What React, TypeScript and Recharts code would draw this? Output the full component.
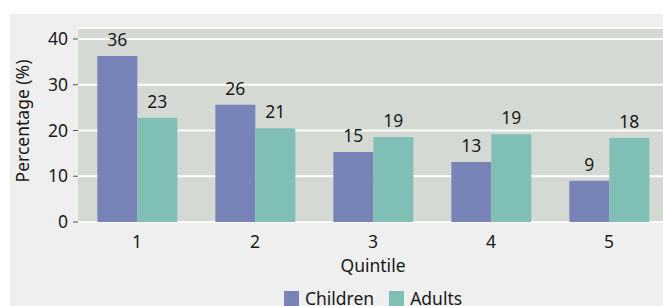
import React from 'react';
import { BarChart, Bar, XAxis, YAxis, CartesianGrid, LabelList, Legend } from 'recharts';

const quintiles = ['1', '2', '3', '4', '5'];
const children = [36.3, 25.6, 15.3, 13.1, 9.0];
const adults = [22.8, 20.5, 18.6, 19.2, 18.4];
const yTicks = [0, 10, 20, 30, 40];
const seriesNames = ['Children', 'Adults'];

const data = quintiles.map((q, i) => ({ q, children: children[i], adults: adults[i] }));

const FONT = '"Noto Sans", sans-serif';
const FS = 17.5;
const PURPLE = '#7883b7';
const TEAL = '#80bfb5';
const seriesColors = [PURPLE, TEAL];

const renderLegend = () => (
  <div style={{ display: 'flex', justifyContent: 'center', alignItems: 'center', height: 20, fontFamily: FONT, fontSize: FS, color: '#1a1a1a', lineHeight: '20px' }}>
    {seriesNames.map((name, i) => (
      <div key={name} style={{ display: 'flex', alignItems: 'center', marginRight: i === seriesNames.length - 1 ? 0 : 15 }}>
        <div style={{ width: 15, height: 15, background: seriesColors[i], marginRight: 6 }} />
        <span>{name}</span>
      </div>
    ))}
  </div>
);

const YLabel = (props: any) => {
  const vb = props.viewBox || {};
  const x = vb.x + 19;
  const y = vb.y + vb.height / 2 - 4;
  return (
    <text x={x} y={y} transform={`rotate(-90 ${x} ${y})`} textAnchor="middle" fontFamily={FONT} fontSize={FS} fill="#1a1a1a">
      Percentage (%)
    </text>
  );
};

const fmt = (v: any) => Math.round(Number(v)).toString();

export default function App() {
  return (
    <div style={{ position: 'absolute', left: 0, top: 0, width: 663, height: 306, overflow: 'hidden', background: '#ffffff' }}>
      <div style={{ position: 'absolute', left: 10, top: 14, width: 670, height: 292, background: '#efefef' }}>
        <BarChart
          width={670}
          height={292}
          data={data}
          margin={{ top: 14, right: 12, bottom: 34, left: 0 }}
          barCategoryGap="16.4%"
          barGap={0}
        >
          <CartesianGrid vertical={false} stroke="#ffffff" strokeWidth={2} fill="#d4d9d3" fillOpacity={1} />
          <XAxis
            dataKey="q"
            height={30}
            axisLine={false}
            tickLine={false}
            tickSize={6}
            tickMargin={8}
            tick={{ fontFamily: FONT, fontSize: FS, fill: '#1a1a1a' }}
            label={{ value: 'Quintile', position: 'bottom', offset: 8, fontFamily: FONT, fontSize: FS, fill: '#1a1a1a' }}
          />
          <YAxis
            width={68}
            domain={[0, 42.4]}
            ticks={yTicks}
            interval={0}
            axisLine={false}
            tickLine={{ stroke: '#555555' }}
            tickSize={5}
            tickMargin={5}
            tick={{ fontFamily: FONT, fontSize: FS, fill: '#1a1a1a' }}
            label={<YLabel />}
            allowDataOverflow
          />
          <Legend
            content={renderLegend}
            wrapperStyle={{ position: 'absolute', left: 68, width: 590, top: 274, bottom: 'auto', height: 20 }}
          />
          <Bar dataKey="children" name={seriesNames[0]} fill={PURPLE} isAnimationActive={false}>
            <LabelList dataKey="children" position="top" offset={10} formatter={fmt} style={{ fontFamily: FONT, fontSize: FS, fill: '#1a1a1a' }} />
          </Bar>
          <Bar dataKey="adults" name={seriesNames[1]} fill={TEAL} isAnimationActive={false}>
            <LabelList dataKey="adults" position="top" offset={10} formatter={fmt} style={{ fontFamily: FONT, fontSize: FS, fill: '#1a1a1a' }} />
          </Bar>
        </BarChart>
      </div>
    </div>
  );
}
